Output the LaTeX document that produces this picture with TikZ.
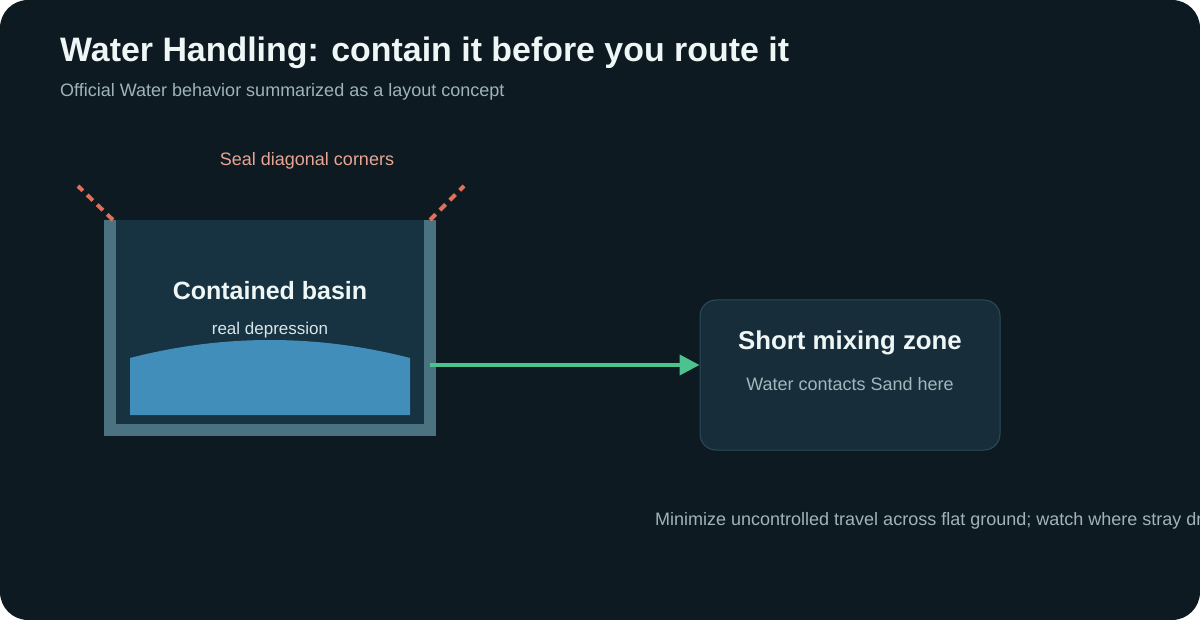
\documentclass[tikz,border=0pt]{standalone}
\usepackage{fontspec}
\setmainfont{Liberation Sans}
\usetikzlibrary{arrows.meta}
\definecolor{bgc}{HTML}{0D1A21}
\definecolor{basinin}{HTML}{173240}
\definecolor{wallc}{HTML}{4A7280}
\definecolor{waterc}{HTML}{428EBA}
\definecolor{dashc}{HTML}{E0705A}
\definecolor{sealtxt}{HTML}{E8A594}
\definecolor{mixfill}{HTML}{172D3A}
\definecolor{mixedge}{HTML}{2C4B5A}
\definecolor{arrowc}{HTML}{4CC38F}
\definecolor{titlec}{HTML}{EEF6F6}
\definecolor{subc}{HTML}{9FB3B8}
\definecolor{smallc}{HTML}{D8E6EA}
\definecolor{mixsub}{HTML}{A0B8BC}
\tikzset{
  txt/.style={inner sep=0pt, anchor=base},
  sealline/.style={draw=dashc, line width=4pt, dash pattern=on 8pt off 6pt},
  mixbox/.style={draw=mixedge, line width=1pt, fill=mixfill, rounded corners=16pt,
    minimum width=300pt, minimum height=150pt, inner sep=0pt},
  flow/.style={draw=arrowc, line width=4pt, -{Triangle[length=20pt,width=20pt]}}
}
\begin{document}
\begin{tikzpicture}[x=1pt,y=-1pt]
\useasboundingbox (0,0) rectangle (1200,620);
\fill[white] (0,0) rectangle (1200,620);
\fill[bgc, rounded corners=28pt] (0,0) rectangle (1200,620);
% title
\node[txt, anchor=base west, text=titlec, font=\bfseries\fontsize{33.9}{40}\selectfont] (title) at (60,62) {Water Handling: contain it before you route it};
\node[txt, anchor=base west, text=subc, font=\fontsize{18}{22}\selectfont] (sub) at (60,97) {Official Water behavior summarized as a layout concept};
% seal label
\node[txt, text=sealtxt, font=\fontsize{18}{22}\selectfont] (seal) at (307,166) {Seal diagonal corners};
% basin
\fill[wallc] (104,220) rectangle (436,436);
\fill[basinin] (116,220) rectangle (424,424);
\fill[waterc] (130,415) -- (130,358) .. controls (223,334) and (317,334) .. (410,358) -- (410,415) -- cycle;
\coordinate (bl) at (113,220);
\coordinate (blo) at (78,186);
\coordinate (br) at (430,220);
\coordinate (bro) at (464,186);
\draw[sealline] (bl) -- (blo);
\draw[sealline] (br) -- (bro);
\node[txt, text=titlec, font=\bfseries\fontsize{25}{30}\selectfont] (basinlbl) at (270,300) {Contained basin};
\node[txt, text=smallc, font=\fontsize{17}{20}\selectfont] (basinsub) at (270,335) {real depression};
% mixing zone
\node[mixbox] (mix) at (850,375) {};
\node[txt, text=titlec, font=\bfseries\fontsize{25.8}{30}\selectfont] (mixlbl) at (850,350) {Short mixing zone};
\node[txt, text=mixsub, font=\fontsize{18}{22}\selectfont] (mixsubl) at (850,390) {Water contacts Sand here};
% arrow
\coordinate (bout) at (430,365);
\draw[flow] (bout) -- (mix.west |- bout);
% bottom note
\begin{scope}
\clip (0,0) rectangle (1200,620);
\node[txt, anchor=base west, text=subc, font=\fontsize{18}{22}\selectfont] (note) at (655,525) {Minimize uncontrolled travel across flat ground; watch where stray dr};
\end{scope}
\end{tikzpicture}
\end{document}
